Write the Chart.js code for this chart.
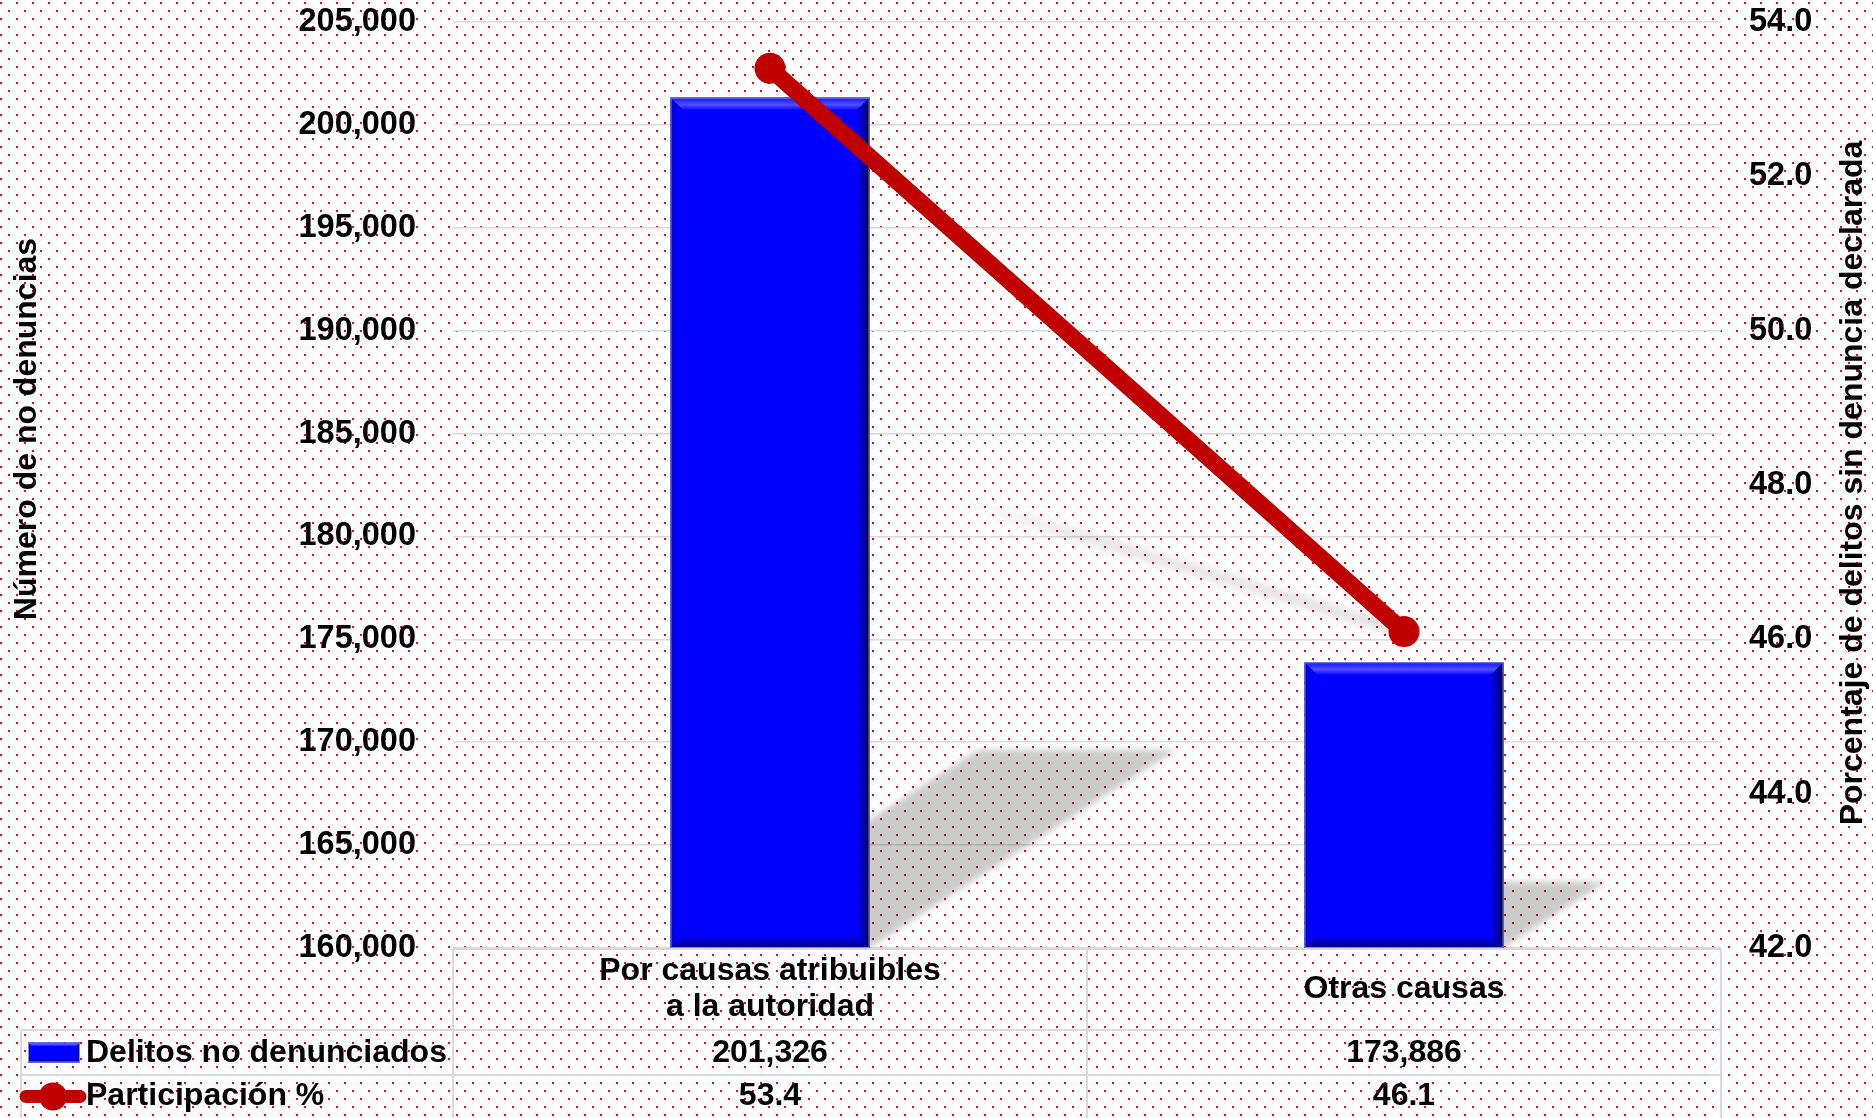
<!DOCTYPE html>
<html>
<head>
<meta charset="utf-8">
<script src="https://cdn.jsdelivr.net/npm/chart.js@4/dist/chart.umd.min.js"></script>
<style>
html,body{margin:0;padding:0;background:#fff;}
#wrap{width:1873px;height:1118px;position:relative;}
</style>
</head>
<body>
<div id="wrap"><canvas id="c" width="1873" height="1118"></canvas></div>
<script>
// ---------- DATA ----------
const categories = [['Por causas atribuibles', 'a la autoridad'], ['Otras causas']];
const barSeriesName = 'Delitos no denunciados';
const lineSeriesName = 'Participación %';
const delitos = [201326, 173886];
const participacion = [53.4, 46.1];
const leftTicks = [160000, 165000, 170000, 175000, 180000, 185000, 190000, 195000, 200000, 205000];
const rightTicks = [42, 44, 46, 48, 50, 52, 54];
const leftTitle = 'Número de no denuncias';
const rightTitle = 'Porcentaje de delitos sin denuncia declarada';

// ---------- STYLE ----------
const FONT = "'Liberation Sans', Arial, sans-serif";
const W = 1873, H = 1118;
const RED = '#C00000';
const BLUE = '#0000FF';
const GRID = '#D9D9D9';
const TXT = 32;

const fmtInt = v => Number(v).toLocaleString('en-US');
const fmtPct = v => Number(v).toFixed(1);

const bgPlugin = {
  id: 'bg',
  beforeDraw(chart) {
    const ctx = chart.ctx;
    ctx.save();
    ctx.fillStyle = '#ffffff';
    ctx.fillRect(0, 0, W, H);
    const p = document.createElement('canvas');
    p.width = 16; p.height = 16;
    const pc = p.getContext('2d');
    pc.fillStyle = '#FF0000';
    pc.fillRect(0, 2, 2, 2);
    pc.fillRect(8, 10, 2, 2);
    ctx.fillStyle = ctx.createPattern(p, 'repeat');
    ctx.fillRect(0, 0, W, H);
    ctx.restore();
  }
};

function barBox(chart, el) {
  const p = el.getProps(['x', 'y', 'base', 'width'], true);
  const ca = chart.chartArea;
  return { x0: p.x - p.width / 2, x1: p.x + p.width / 2, y0: Math.max(p.y, ca.top), y1: Math.min(p.base, ca.bottom) };
}

const shadowPlugin = {
  id: 'shadows',
  beforeDatasetsDraw(chart) {
    const ctx = chart.ctx;
    const ca = chart.chartArea;
    const bm = chart.getDatasetMeta(0);
    ctx.save();
    ctx.beginPath();
    ctx.rect(ca.left, ca.top, ca.right - ca.left, ca.bottom - ca.top);
    ctx.clip();
    ctx.filter = 'blur(3px)';
    ctx.fillStyle = 'rgba(0,0,0,0.2)';
    bm.data.forEach(el => {
      const b = barBox(chart, el);
      const h = b.y1 - b.y0;
      const dx = 0.361 * h, dy = 0.233 * h;
      ctx.beginPath();
      ctx.moveTo(b.x0, b.y1);
      ctx.lineTo(b.x1, b.y1);
      ctx.lineTo(b.x1 + dx, b.y1 - dy);
      ctx.lineTo(b.x0 + dx, b.y1 - dy);
      ctx.closePath();
      ctx.fill();
    });
    // line shadow
    const lm = chart.getDatasetMeta(1);
    const a = lm.data[0], b = lm.data[1];
    const sx = a.x + 0.32 * (b.x - a.x);
    const sy = b.y - 0.295 * (b.x - sx);
    const g = ctx.createLinearGradient(sx, sy, b.x, b.y);
    g.addColorStop(0, 'rgba(0,0,0,0.02)');
    g.addColorStop(0.25, 'rgba(0,0,0,0.10)');
    g.addColorStop(1, 'rgba(0,0,0,0.12)');
    ctx.filter = 'blur(4px)';
    ctx.strokeStyle = g;
    ctx.lineWidth = 11;
    ctx.lineCap = 'round';
    ctx.beginPath();
    ctx.moveTo(sx, sy);
    ctx.lineTo(b.x, b.y);
    ctx.stroke();
    ctx.restore();
  }
};

function bevelRect(ctx, x0, y0, x1, y1, b, fillCenter) {
  let g;
  if (fillCenter) {
    ctx.fillStyle = BLUE;
    ctx.fillRect(x0, y0, x1 - x0, y1 - y0);
  }
  g = ctx.createLinearGradient(0, y0, 0, y0 + b);
  g.addColorStop(0, '#1010FF');
  g.addColorStop(0.55, '#5050FF');
  g.addColorStop(1, BLUE);
  ctx.fillStyle = g;
  ctx.beginPath();
  ctx.moveTo(x0, y0); ctx.lineTo(x1, y0); ctx.lineTo(x1 - b, y0 + b); ctx.lineTo(x0 + b, y0 + b); ctx.closePath(); ctx.fill();
  g = ctx.createLinearGradient(0, y1 - b, 0, y1);
  g.addColorStop(0, BLUE);
  g.addColorStop(1, '#00008A');
  ctx.fillStyle = g;
  ctx.beginPath();
  ctx.moveTo(x0, y1); ctx.lineTo(x1, y1); ctx.lineTo(x1 - b, y1 - b); ctx.lineTo(x0 + b, y1 - b); ctx.closePath(); ctx.fill();
  g = ctx.createLinearGradient(x1 - b, 0, x1, 0);
  g.addColorStop(0, BLUE);
  g.addColorStop(0.6, '#0000A0');
  g.addColorStop(1, '#000030');
  ctx.fillStyle = g;
  ctx.beginPath();
  ctx.moveTo(x1, y0); ctx.lineTo(x1, y1); ctx.lineTo(x1 - b, y1 - b); ctx.lineTo(x1 - b, y0 + b); ctx.closePath(); ctx.fill();
  g = ctx.createLinearGradient(x0, 0, x0 + b, 0);
  g.addColorStop(0, '#0000C8');
  g.addColorStop(0.5, BLUE);
  g.addColorStop(1, BLUE);
  ctx.fillStyle = g;
  ctx.beginPath();
  ctx.moveTo(x0, y0); ctx.lineTo(x0 + b, y0 + b); ctx.lineTo(x0 + b, y1 - b); ctx.lineTo(x0, y1); ctx.closePath(); ctx.fill();
  ctx.strokeStyle = 'rgba(150,150,210,0.9)';
  ctx.lineWidth = 1;
  ctx.strokeRect(x0 + 0.5, y0 + 0.5, x1 - x0 - 1, y1 - y0 - 1);
}

const bevelPlugin = {
  id: 'bevel',
  afterDatasetDraw(chart, args) {
    if (args.meta.type !== 'bar') return;
    const ctx = chart.ctx;
    ctx.save();
    args.meta.data.forEach(el => {
      const b = barBox(chart, el);
      bevelRect(ctx, b.x0, b.y0, b.x1, b.y1, 13, false);
    });
    ctx.restore();
  }
};

const titlesPlugin = {
  id: 'titles',
  afterDraw(chart) {
    const ctx = chart.ctx;
    [[leftTitle, 27, 429], [rightTitle, 1853, 483]].forEach(([t, x, y]) => {
      ctx.save();
      ctx.fillStyle = '#000';
      ctx.font = 'bold ' + TXT + 'px ' + FONT;
      ctx.textAlign = 'center';
      ctx.textBaseline = 'middle';
      ctx.translate(x, y);
      ctx.rotate(-Math.PI / 2);
      ctx.fillText(t, 0, 0);
      ctx.restore();
    });
  }
};

const tablePlugin = {
  id: 'table',
  afterDraw(chart) {
    const ctx = chart.ctx;
    const ca = chart.chartArea;
    const xs = chart.scales.x;
    const top = ca.bottom + 1;
    const r1 = top + 81, r2 = r1 + 45, r3 = H + 2;
    const tableLeft = 21;
    ctx.save();
    ctx.strokeStyle = GRID;
    ctx.lineWidth = 2;
    const n = categories.length;
    const catW = (ca.right - ca.left) / n;
    ctx.beginPath();
    ctx.moveTo(ca.left, top); ctx.lineTo(ca.right, top);
    ctx.moveTo(tableLeft, r1); ctx.lineTo(ca.right, r1);
    ctx.moveTo(tableLeft, r2); ctx.lineTo(ca.right, r2);
    for (let i = 0; i <= n; i++) {
      const x = ca.left + i * catW;
      ctx.moveTo(x, top); ctx.lineTo(x, r3);
    }
    ctx.moveTo(tableLeft, r1); ctx.lineTo(tableLeft, r3);
    ctx.stroke();

    ctx.fillStyle = '#000';
    ctx.textAlign = 'center';
    ctx.textBaseline = 'middle';
    ctx.font = 'bold ' + TXT + 'px ' + FONT;
    const lh = 36;
    categories.forEach((lines, i) => {
      const cx = xs.getPixelForValue(i);
      const mid = (top + r1) / 2;
      const startY = mid - (lines.length - 1) * lh / 2;
      lines.forEach((t, j) => ctx.fillText(t, cx, startY + j * lh));
      ctx.fillText(fmtInt(delitos[i]), cx, (r1 + r2) / 2 + 1);
      ctx.fillText(fmtPct(participacion[i]), cx, (r2 + r3) / 2 - 1);
    });

    const y1 = (r1 + r2) / 2, y2 = (r2 + r3) / 2 - 1;
    bevelRect(ctx, 28, y1 - 10, 80, y1 + 10, 4, true);
    ctx.strokeStyle = RED;
    ctx.lineWidth = 13;
    ctx.lineCap = 'round';
    ctx.beginPath(); ctx.moveTo(26, y2); ctx.lineTo(80, y2); ctx.stroke();
    ctx.fillStyle = RED;
    ctx.beginPath(); ctx.arc(53, y2, 14, 0, Math.PI * 2); ctx.fill();

    ctx.fillStyle = '#000';
    ctx.textAlign = 'left';
    ctx.font = 'bold ' + TXT + 'px ' + FONT;
    ctx.fillText(barSeriesName, 86, y1 + 1);
    ctx.fillText(lineSeriesName, 86, y2);
    ctx.restore();
  }
};

Chart.defaults.font.family = FONT;

function fixV(width) {
  return s => {
    s.width = width;
    s.paddingTop = 0;
    s.paddingBottom = 0;
  };
}

new Chart(document.getElementById('c'), {
  data: {
    labels: categories,
    datasets: [
      {
        type: 'bar',
        label: barSeriesName,
        data: delitos,
        yAxisID: 'y',
        backgroundColor: BLUE,
        borderWidth: 0,
        barPercentage: 0.314,
        categoryPercentage: 1.0,
        order: 2
      },
      {
        type: 'line',
        label: lineSeriesName,
        data: participacion,
        yAxisID: 'y1',
        borderColor: RED,
        backgroundColor: RED,
        borderWidth: 17,
        borderCapStyle: 'round',
        pointRadius: 15.5,
        pointHoverRadius: 15.5,
        pointBackgroundColor: RED,
        pointBorderWidth: 0,
        tension: 0,
        order: 1
      }
    ]
  },
  options: {
    responsive: false,
    devicePixelRatio: 1,
    animation: false,
    layout: { autoPadding: false, padding: { left: 0, right: 0, top: 22, bottom: 170 } },
    plugins: {
      legend: { display: false },
      tooltip: { enabled: false },
      title: { display: false }
    },
    scales: {
      x: {
        display: false,
        offset: true
      },
      y: {
        position: 'left',
        min: leftTicks[0],
        max: leftTicks[leftTicks.length - 1],
        afterBuildTicks: s => { s.ticks = leftTicks.map(v => ({ value: v })); },
        afterFit: fixV(453),
        border: { display: false },
        grid: { color: GRID, lineWidth: 1.5, drawTicks: false },
        ticks: {
          padding: 37,
          color: '#000',
          font: { size: 32.5, weight: 'bold', family: FONT },
          callback: v => fmtInt(v)
        }
      },
      y1: {
        position: 'right',
        min: rightTicks[0],
        max: rightTicks[rightTicks.length - 1],
        afterBuildTicks: s => { s.ticks = rightTicks.map(v => ({ value: v })); },
        afterFit: fixV(152),
        border: { display: false },
        grid: { drawOnChartArea: false, drawTicks: false },
        ticks: {
          padding: 28,
          color: '#000',
          font: { size: 32.5, weight: 'bold', family: FONT },
          callback: v => fmtPct(v)
        }
      }
    }
  },
  plugins: [bgPlugin, shadowPlugin, bevelPlugin, titlesPlugin, tablePlugin]
});
</script>
</body>
</html>
